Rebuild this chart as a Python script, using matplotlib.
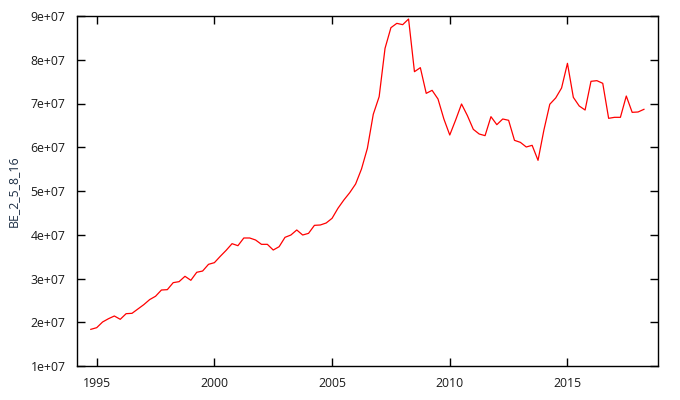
import matplotlib
matplotlib.use("Agg")
import matplotlib.pyplot as plt
import numpy as np

plt.rcParams['font.family'] = ['Open Sans', 'DejaVu Sans']

start_year = 1994.75
values_e7 = [
    1.838, 1.876, 2.006, 2.081, 2.143, 2.067, 2.196, 2.204, 2.303, 2.402,
    2.518, 2.594, 2.737, 2.745, 2.905, 2.928, 3.050, 2.959, 3.142, 3.171,
    3.324, 3.362, 3.507, 3.644, 3.796, 3.750, 3.926, 3.926, 3.880, 3.781,
    3.781, 3.651, 3.727, 3.941, 3.994, 4.109, 3.994, 4.032, 4.215, 4.223,
    4.269, 4.376, 4.605, 4.794, 4.962, 5.160, 5.503, 5.976, 6.753, 7.156,
    8.261, 8.733, 8.832, 8.802, 8.931, 7.727, 7.819, 7.232, 7.301, 7.103,
    6.646, 6.280, 6.623, 6.989, 6.722, 6.410, 6.303, 6.265, 6.699, 6.516,
    6.646, 6.616, 6.158, 6.112, 6.006, 6.044, 5.701, 6.394, 6.983, 7.126,
    7.354, 7.918, 7.141, 6.943, 6.851, 7.507, 7.522, 7.461, 6.661, 6.684,
    6.684, 7.171, 6.798, 6.806, 6.867,
]
x_ticks = [1995, 2000, 2005, 2010, 2015]
y_ticks = [1e7, 2e7, 3e7, 4e7, 5e7, 6e7, 7e7, 8e7, 9e7]
y_tick_labels = ["1e+07", "2e+07", "3e+07", "4e+07", "5e+07", "6e+07", "7e+07", "8e+07", "9e+07"]
y_label = "BE_2_5_8_16"

values = np.array(values_e7) * 1e7
years = start_year + 0.25 * np.arange(len(values))

fig = plt.figure(figsize=(6.8, 4.0), dpi=100)
ax = fig.add_axes([76.7 / 680, 34 / 400, (658.3 - 76.7) / 680, 350 / 400])
ax.plot(years, values, color='#ff0000', linewidth=0.9)

ax.set_xlim(1994.15, 2018.86)
ax.set_ylim(1e7, 9e7)
ax.set_xticks(x_ticks)
ax.set_xticklabels([str(t) for t in x_ticks])
ax.set_yticks(y_ticks)
ax.set_yticklabels(y_tick_labels)

ax.tick_params(direction='in', length=5.5, width=1, top=True, right=True,
               labelsize=8.8, labelcolor='#1a1a1a', pad=8)
for s in ax.spines.values():
    s.set_linewidth(1.0)
    s.set_color('black')

ax.set_ylabel(y_label, fontsize=8.8, color='#1c2e44', labelpad=8)

fig.savefig("out.png", dpi=100)
